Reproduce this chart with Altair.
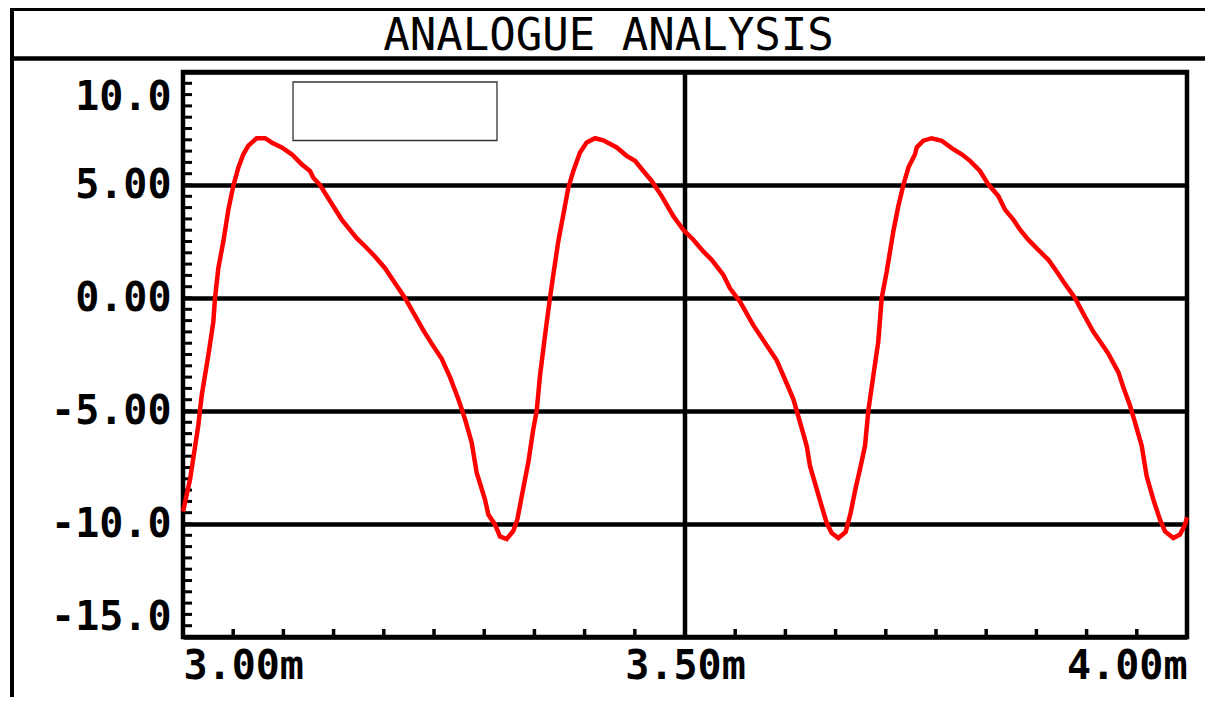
import altair as alt
import pandas as pd
import numpy as np

title_text = "ANALOGUE ANALYSIS"

# time in ms, voltage in V
time_ms = [
    3.0000, 3.0070, 3.0152, 3.0186, 3.0252, 3.0302, 3.0319, 3.0352, 3.0402, 3.0452,
    3.0501, 3.0551, 3.0601, 3.0651, 3.0734, 3.0817, 3.0883, 3.0983, 3.1083, 3.1182,
    3.1265, 3.1298, 3.1365, 3.1464, 3.1581, 3.1647, 3.1730, 3.1813, 3.1912, 3.2012,
    3.2079, 3.2211, 3.2328, 3.2394, 3.2477, 3.2577, 3.2659, 3.2742, 3.2809, 3.2875,
    3.2925, 3.3008, 3.3041, 3.3108, 3.3157, 3.3224, 3.3290, 3.3330, 3.3390,
    3.3439, 3.3489, 3.3523, 3.3556, 3.3606, 3.3655, 3.3688, 3.3738, 3.3788, 3.3838,
    3.3888, 3.3954, 3.4021, 3.4104, 3.4186, 3.4320, 3.4419, 3.4502, 3.4585, 3.4668,
    3.4768, 3.4884, 3.4983, 3.5083, 3.5182, 3.5266, 3.5382, 3.5448, 3.5548, 3.5680,
    3.5813, 3.5913, 3.5979, 3.6079, 3.6146, 3.6212, 3.6245, 3.6361, 3.6411, 3.6461,
    3.6527, 3.6600, 3.6650, 3.6700, 3.6743, 3.6793, 3.6826, 3.6876, 3.6925, 3.6959,
    3.7009, 3.7075, 3.7125, 3.7175, 3.7225, 3.7291, 3.7308, 3.7374, 3.7457, 3.7557,
    3.7656, 3.7756, 3.7839, 3.7938, 3.8021, 3.8121, 3.8187, 3.8270, 3.8337, 3.8419,
    3.8519, 3.8619, 3.8702, 3.8768, 3.8884, 3.8984, 3.9067, 3.9150, 3.9216, 3.9316,
    3.9366, 3.9432, 3.9482, 3.9549, 3.9598, 3.9665, 3.9731, 3.9781, 3.9864, 3.9930,
    3.9980, 4.0000,
]
voltage = [
    -9.45, -8.03, -5.65, -4.32, -2.54, -1.05, 0.00, 1.32, 2.51, 3.91,
    4.96, 5.77, 6.36, 6.74, 7.07, 7.07, 6.88, 6.66, 6.36, 5.92,
    5.62, 5.32, 5.00, 4.29, 3.47, 3.10, 2.65, 2.29, 1.84, 1.32,
    0.87, 0.00, -0.91, -1.43, -2.02, -2.69, -3.50, -4.47, -5.36, -6.39,
    -7.73, -8.92, -9.58, -10.03, -10.55, -10.67, -10.30, -9.80, -8.40,
    -7.28, -5.80, -4.99, -3.43, -1.65, 0.00, 1.02, 2.51, 3.69, 4.88,
    5.62, 6.44, 6.88, 7.07, 6.98, 6.66, 6.29, 6.07, 5.62, 5.18,
    4.51, 3.62, 3.02, 2.58, 2.06, 1.69, 1.02, 0.43, -0.16, -1.20,
    -2.09, -2.76, -3.43, -4.47, -5.50, -6.54, -7.43, -9.21, -9.95, -10.40,
    -10.62, -10.35, -9.50, -8.40, -7.58, -6.54, -4.99, -3.43, -1.94, 0.00,
    1.17, 2.95, 4.07, 5.00, 5.77, 6.36, 6.66, 6.96, 7.07, 6.96,
    6.63, 6.36, 6.07, 5.62, 5.03, 4.51, 3.91, 3.47, 3.02, 2.58,
    2.13, 1.69, 1.17, 0.73, 0.00, -0.83, -1.50, -2.02, -2.46, -3.28,
    -3.95, -4.76, -5.50, -6.54, -7.88, -8.92, -9.81, -10.33, -10.62, -10.47,
    -10.03, -9.70,
]

y_tick_values = [-15, -10, -5, 0, 5, 10]
y_tick_labels = ["-15.0", "-10.0", "-5.00", "0.00", "5.00", "10.0"]
x_tick_values = [3.0, 3.5, 4.0]
x_tick_labels = ["3.00m", "3.50m", "4.00m"]
x_domain = [3.0, 4.0]
y_domain = [-15, 10]
x_minor_step = 0.05
y_minor_step = 0.5
cursor_time = [3.5]

W, H = 1004, 565
FONT = "DejaVu Sans Mono"


def label_expr(values, labels):
    parts = [f"datum.value == {v} ? '{l}'" for v, l in zip(values, labels)]
    return " : ".join(parts) + " : ''"


xs = alt.Scale(domain=x_domain, nice=False, zero=False)
ys = alt.Scale(domain=y_domain, nice=False, zero=False)

x_axis = alt.Axis(
    values=x_tick_values, labelExpr=label_expr(x_tick_values, x_tick_labels),
    labelFont=FONT, labelFontSize=40, labelFontWeight="bold", labelColor="black",
    labelPadding=9, ticks=False, tickSize=0, domain=False, grid=False,
    title=None, labelFlush=True,
)
y_axis = alt.Axis(
    values=y_tick_values, labelExpr=label_expr(y_tick_values, y_tick_labels),
    labelFont=FONT, labelFontSize=40, labelFontWeight="bold", labelColor="black",
    labelPadding=12, ticks=False, tickSize=0, domain=False,
    grid=True, gridColor="black", gridWidth=4.5, gridOpacity=1,
    title=None, labelFlush=False, labelBaseline="middle",
    labelOffset={
        "condition": [
            {"test": "datum.value == 10", "value": 25},
            {"test": "datum.value == -15", "value": -20},
        ],
        "value": 0,
    },
)

curve_df = pd.DataFrame({"t": time_ms, "v": voltage})
x_minor_df = pd.DataFrame({"t": np.round(np.arange(x_domain[0], x_domain[1] + 1e-9, x_minor_step), 3)})
y_minor_df = pd.DataFrame({"v": np.round(np.arange(y_domain[0], y_domain[1] + 1e-9, y_minor_step), 2)})
cursor_df = pd.DataFrame({"t": cursor_time})
one = pd.DataFrame({"k": [0]})

X = alt.X("t:Q", scale=xs, axis=x_axis)
Y = alt.Y("v:Q", scale=ys, axis=y_axis)

line = alt.Chart(curve_df).mark_line(color="#ff0000", strokeWidth=4.5).encode(x=X, y=Y)

cursor = alt.Chart(cursor_df).mark_rule(color="black", strokeWidth=4.5).encode(x=X)

y_minor = alt.Chart(y_minor_df).mark_rule(color="black", strokeWidth=3).encode(
    y=Y, x=alt.value(0), x2=alt.value(9),
)

x_minor = alt.Chart(x_minor_df).mark_rule(color="black", strokeWidth=3.5).encode(
    x=X, y=alt.value(H), y2=alt.value(H - 8),
)

legend_box = alt.Chart(one).mark_rect(fill="white", stroke="#333333", strokeWidth=1.3).encode(
    x=alt.value(110), x2=alt.value(314), y=alt.value(10), y2=alt.value(68.5),
)

outer_left = alt.Chart(one).mark_rule(color="black", strokeWidth=4).encode(
    x=alt.value(-171), y=alt.value(-63), y2=alt.value(H + 90),
)
outer_top = alt.Chart(one).mark_rule(color="black", strokeWidth=4).encode(
    x=alt.value(-173), x2=alt.value(W + 60), y=alt.value(-63),
)
title_sep = alt.Chart(one).mark_rule(color="black", strokeWidth=4.5).encode(
    x=alt.value(-173), x2=alt.value(W + 60), y=alt.value(-13.5),
)
title = alt.Chart(one).mark_text(
    text=title_text, font=FONT, fontSize=44, align="center",
    baseline="alphabetic", color="black",
).encode(x=alt.value(425.5), y=alt.value(-22))

chart = alt.layer(
    cursor, y_minor, x_minor, legend_box, line,
    outer_left, outer_top, title_sep, title,
).properties(
    width=W, height=H,
    background="white",
    autosize=alt.AutoSizeParams(type="none"),
    padding={"left": 175, "top": 64, "right": 18, "bottom": 60},
).configure_view(
    stroke="black", strokeWidth=4.5,
)

chart.save("out.html", embed_options={"renderer": "svg", "actions": False})
